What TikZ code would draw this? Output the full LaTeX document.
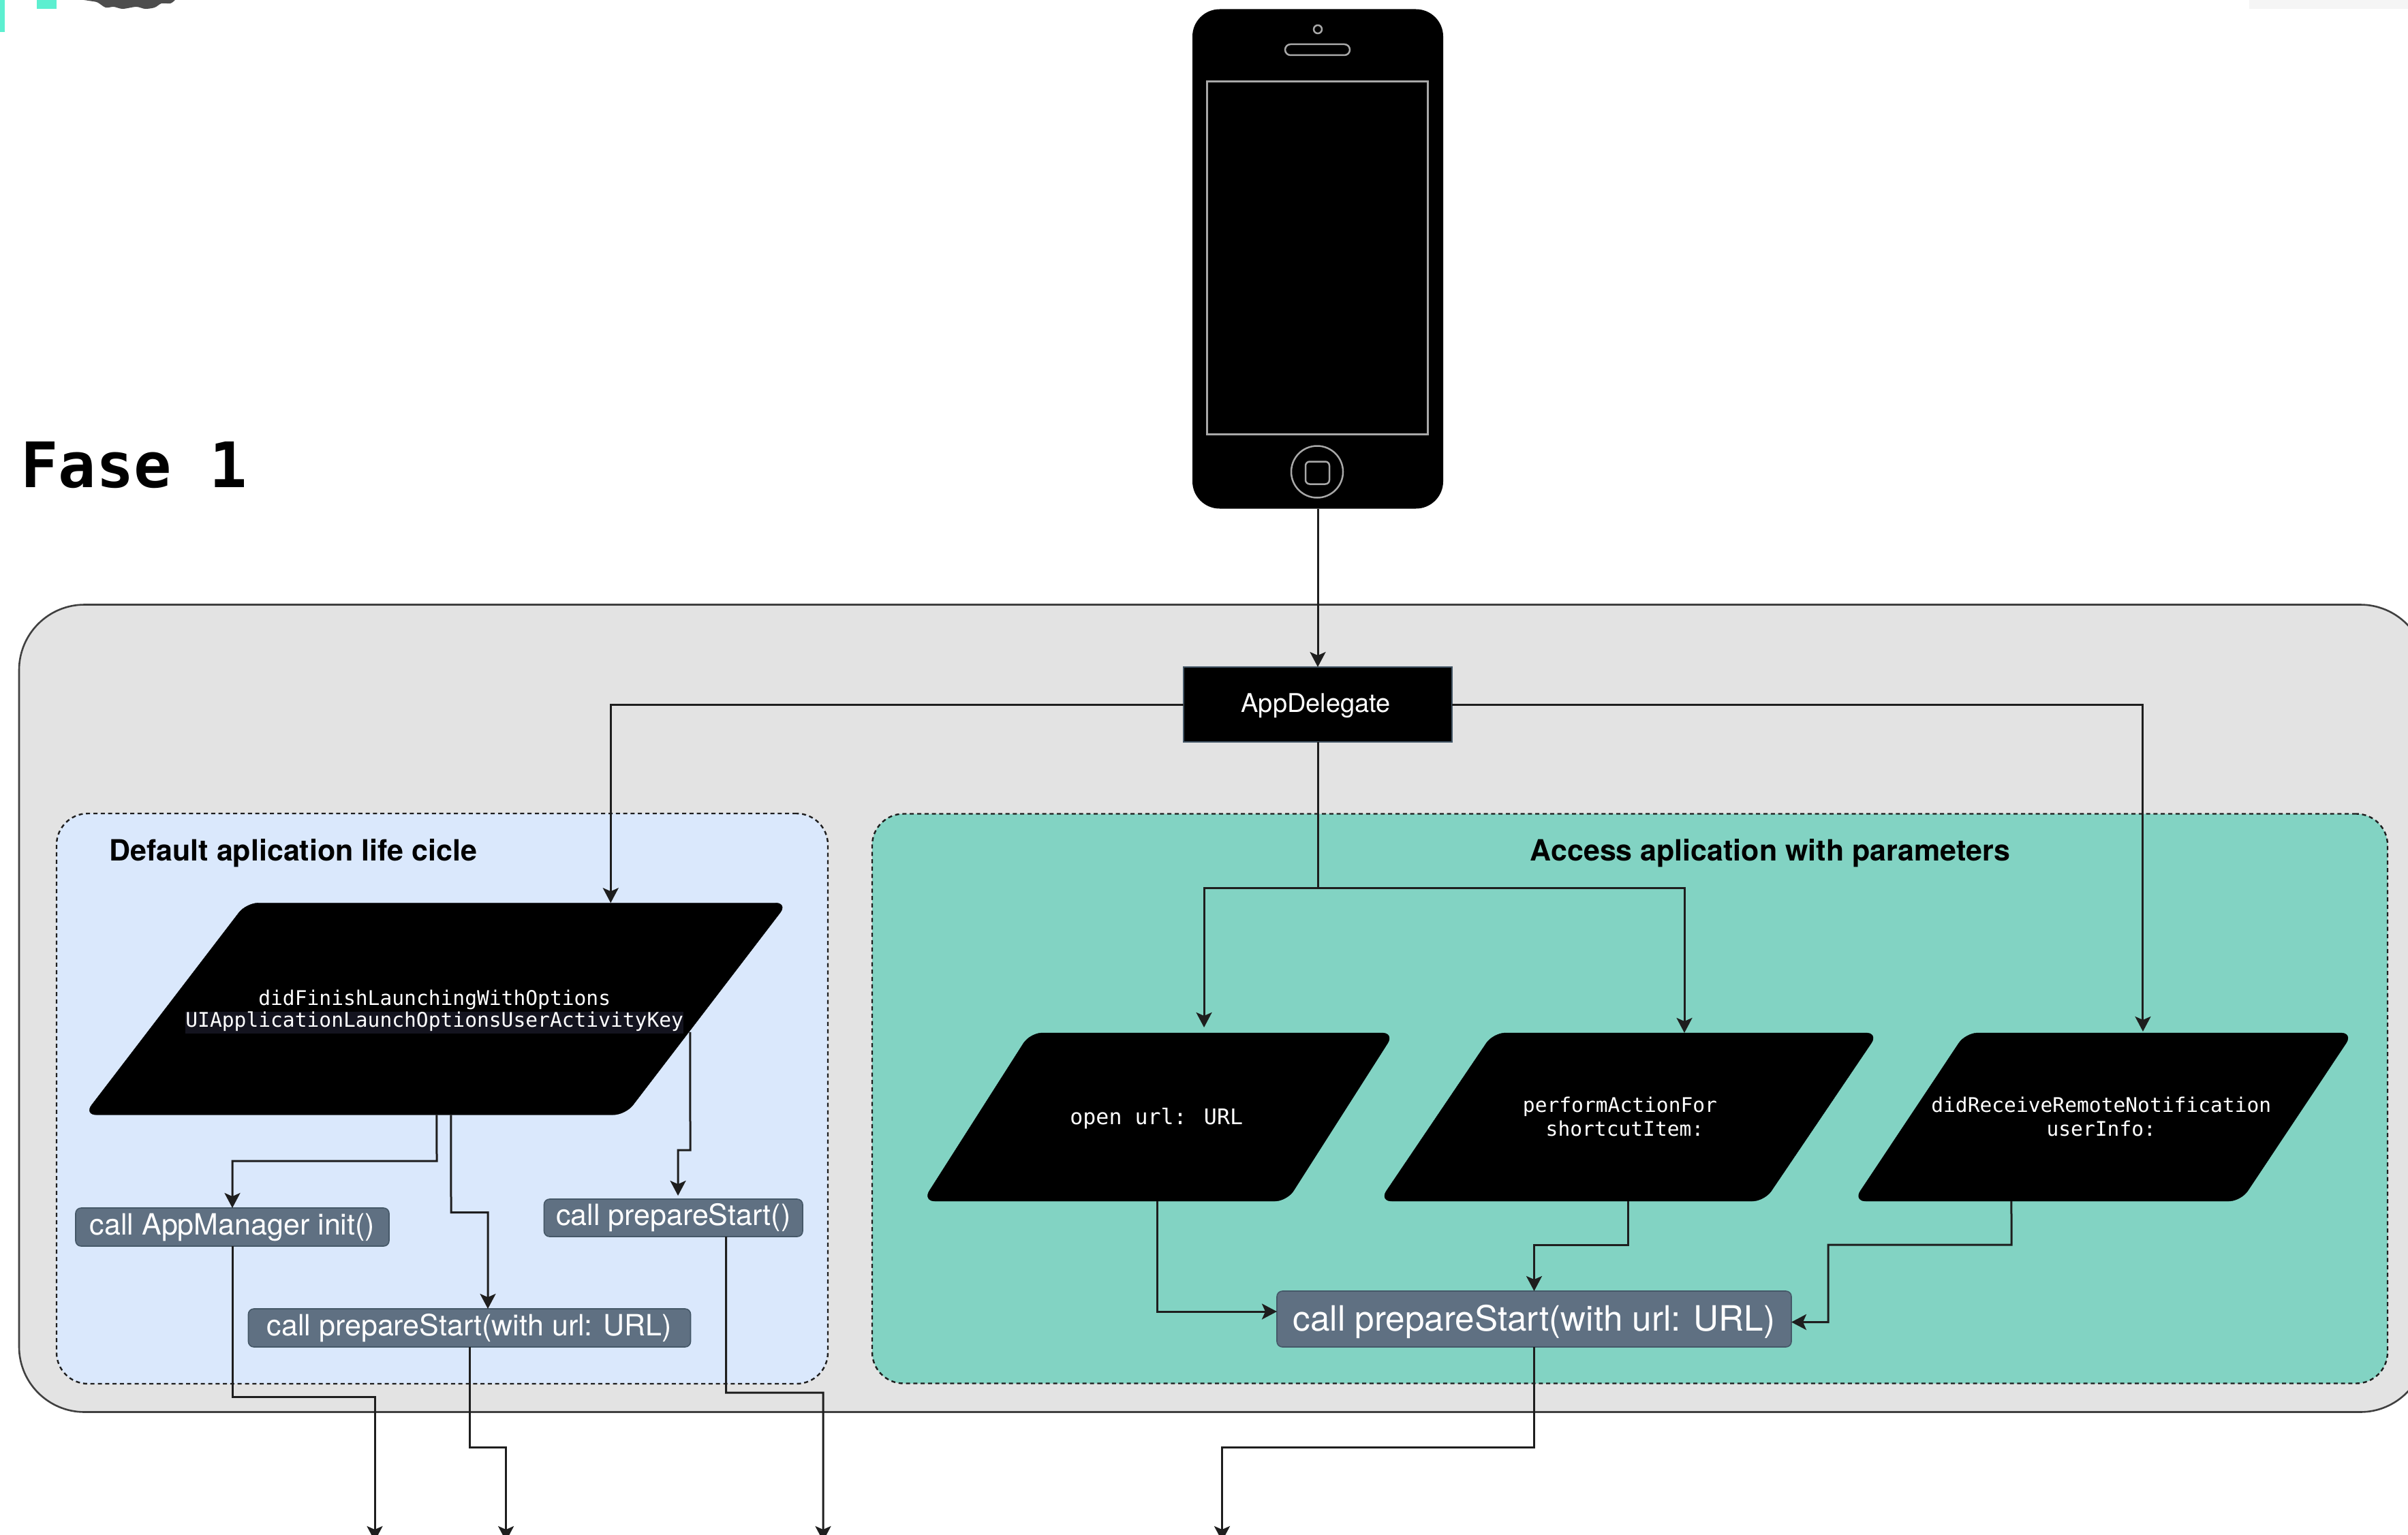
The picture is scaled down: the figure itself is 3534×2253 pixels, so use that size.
\documentclass[tikz,border=0pt]{standalone}
\usepackage{fontspec}
\setmainfont{TeX Gyre Heros}
\newfontfamily\monof{DejaVu Sans Mono}
\usetikzlibrary{arrows.meta,calc}
\definecolor{panelgray}{HTML}{E3E3E3}
\definecolor{panelblue}{HTML}{DAE8FC}
\definecolor{panelteal}{HTML}{82D3C3}
\definecolor{callfill}{HTML}{5F7082}
\definecolor{callline}{HTML}{455868}
\definecolor{linecol}{HTML}{1E1E1E}
\definecolor{hilite}{HTML}{14141F}
\definecolor{phoneline}{HTML}{A8A8A8}
\tikzset{slant offset/.initial=0pt}
\makeatletter
\pgfdeclareshape{slantbox}{
  \inheritsavedanchors[from=rectangle]
  \inheritanchorborder[from=rectangle]
  \inheritanchor[from=rectangle]{center}
  \inheritanchor[from=rectangle]{north}
  \inheritanchor[from=rectangle]{south}
  \inheritanchor[from=rectangle]{east}
  \inheritanchor[from=rectangle]{west}
  \backgroundpath{
    \southwest \edef\slxa{\the\pgf@x}\edef\slya{\the\pgf@y}
    \northeast \edef\slxb{\the\pgf@x}\edef\slyb{\the\pgf@y}
    \pgfmathsetlengthmacro\sloff{\pgfkeysvalueof{/tikz/slant offset}}
    \pgfmathsetlengthmacro\slxc{\slxa+\sloff}
    \pgfmathsetlengthmacro\slxd{\slxb-\sloff}
    \pgfmathsetlengthmacro\slxm{0.5*\slxa+0.5*\slxd}
    \pgfpathmoveto{\pgfqpoint{\slxm}{\slya}}
    \pgfpathlineto{\pgfqpoint{\slxa}{\slya}}
    \pgfpathlineto{\pgfqpoint{\slxc}{\slyb}}
    \pgfpathlineto{\pgfqpoint{\slxb}{\slyb}}
    \pgfpathlineto{\pgfqpoint{\slxd}{\slya}}
    \pgfpathclose
  }
}
\makeatother
\tikzset{
  outerpanel/.style={rectangle,draw=linecol!85,fill=panelgray,line width=1.3pt,rounded corners=48pt,outer sep=0pt,inner sep=0pt},
  innerpanel/.style={rectangle,draw=linecol,line width=1.2pt,dash pattern=on 3pt off 2.4pt,rounded corners=23pt,outer sep=0pt,inner sep=0pt},
  para/.style={slantbox,fill=black,draw=black,line width=0.2pt,rounded corners=9pt,inner sep=0pt,outer sep=0pt,text=white,align=center},
  callbox/.style={rectangle,fill=callfill,draw=callline,line width=0.8pt,rounded corners=4pt,text=white,inner sep=0pt,outer sep=0pt},
  small/.style={font=\fontsize{21.5}{24}\selectfont},
  title/.style={font=\bfseries\fontsize{21.5}{24}\selectfont,inner sep=0pt},
  conn/.style={draw=linecol,line width=1.5pt},
  arr/.style={conn,-{Stealth[length=11pt,width=11.5pt,inset=2.5pt]}},
  phonepart/.style={draw=phoneline,line width=1.25pt}
}
\begin{document}
\begin{tikzpicture}[x=0.5pt,y=-0.5pt]
\useasboundingbox (0,0) rectangle (3534,2253);
\clip (0,0) rectangle (3534,2253);
% window remnants at the top edge
\fill[color={rgb,255:red,93;green,239;blue,208}] (0,0) rectangle (7,47);
\fill[color={rgb,255:red,93;green,239;blue,208}] (54,0) rectangle (83,13);
\fill[color={rgb,255:red,77;green,77;blue,77}] plot[smooth] coordinates {(123,0) (133,1.5) (143,3.5) (155,11) (167,10) (180,13) (200,10) (213,13) (227,11) (237,5) (250,5) (257,0)} -- cycle;
\fill[color={rgb,255:red,245;green,245;blue,245}] (3301,0) rectangle (3534,13);
% heading
\node[anchor=west,inner sep=0pt,font=\monof\bfseries\fontsize{46}{50}\selectfont] (fase) at (30,683) {Fase 1};
% phone
\node[rectangle,fill=black,rounded corners=20pt,minimum width=184pt,minimum height=366.5pt,outer sep=0pt,inner sep=0pt] (phone) at (1934,380) {};
\node[rectangle,phonepart,minimum width=162pt,minimum height=259pt,inner sep=0pt] (screen) at (1933.5,378.5) {};
\node[circle,phonepart,minimum size=6pt,inner sep=0pt] (camera) at (1934,43) {};
\node[rectangle,phonepart,rounded corners=4pt,minimum width=47.5pt,minimum height=8pt,inner sep=0pt] (speaker) at (1933.5,73) {};
\node[circle,phonepart,minimum size=38pt,inner sep=0pt] (homering) at (1933,692.5) {};
\node[rectangle,phonepart,rounded corners=3pt,minimum width=17.5pt,minimum height=16.5pt,inner sep=0pt] (homekey) at (1933.5,694) {};
% panels
\node[outerpanel,minimum width=1766pt,minimum height=592.5pt] (outer) at (1794,1480) {};
\node[innerpanel,fill=panelblue,minimum width=566pt,minimum height=418.5pt] (blue) at (649,1612.5) {};
\node[innerpanel,fill=panelteal,minimum width=1112pt,minimum height=418pt] (teal) at (2392,1612.5) {};
\node[title,anchor=west] (bluetitle) at (160,1252) {Default aplication life cicle};
\node[title] (tealtitle) at (2598,1252) {Access aplication with parameters};
% AppDelegate
\node[rectangle,fill=black,draw=callline,line width=0.8pt,text=white,minimum width=197pt,minimum height=55pt,outer sep=0pt,inner sep=0pt,font=\fontsize{19}{22}\selectfont] (del) at (1934,1034) {\rule{0pt}{16pt}\hspace*{-3pt}AppDelegate};
% parallelograms
\node[para,slant offset=119pt,minimum width=516.25pt,minimum height=155.5pt,font=\monof\fontsize{14.8}{16}\selectfont] (big) at (639.75,1480.75) {\begin{tabular}{@{}c@{}}\rule{0pt}{15.7pt}didFinishLaunchingWithOptions\\\setlength{\fboxsep}{0pt}\colorbox{hilite}{\strut UIApplicationLaunchOptionsUserActivityKey}\end{tabular}\hspace{2pt}};
\node[para,slant offset=78.75pt,minimum width=346pt,minimum height=123.5pt,font=\monof\fontsize{15.8}{18}\selectfont] (p1) at (1700.25,1639.5) {\rule{0pt}{14pt}open url: URL\hspace{3pt}};
\node[para,slant offset=83.5pt,minimum width=366pt,minimum height=123.5pt,font=\monof\fontsize{14.8}{17.5}\selectfont] (p2) at (2390.5,1639.5) {\begin{tabular}{@{}c@{}}\rule{0pt}{15.7pt}performActionFor\\\hspace*{7pt}shortcutItem:\end{tabular}\hspace{13pt}};
\node[para,slant offset=82.25pt,minimum width=366.5pt,minimum height=123.5pt,font=\monof\fontsize{14.8}{17.5}\selectfont] (p3) at (3086.75,1639.5) {\begin{tabular}{@{}c@{}}\rule{0pt}{15.7pt}didReceiveRemoteNotification\\userInfo:\end{tabular}\hspace{3pt}};
% call boxes
\node[callbox,small,minimum width=230pt,minimum height=28pt] (mgr) at (341,1801) {call AppManager init()};
\node[callbox,small,minimum width=189.75pt,minimum height=27.5pt] (ps1) at (988.25,1787.5) {call prepareStart()};
\node[callbox,small,minimum width=324.5pt,minimum height=28pt] (ps2) at (689,1949) {call prepareStart(with url: URL)};
\node[callbox,minimum width=377.5pt,minimum height=41pt,font=\fontsize{25.6}{28}\selectfont] (cb) at (2251.5,1936) {\rule{0pt}{23.2pt}call prepareStart(with url: URL)};
% free ends at the lower edge
\coordinate (outA) at (550,2262);
\coordinate (outB) at (742.6,2262);
\coordinate (outC) at (1208,2262);
\coordinate (outD) at (1793.5,2262);
\coordinate (split) at (1934,1303);
% connectors
\draw[arr] (phone.south) -- (del.north);
\draw[arr] (del.west) -| ([xshift=128.25pt]big.north);
\draw[arr] (del.east) -| ([xshift=29.1pt,yshift=1pt]p3.north);
\draw[conn] (del.south) -- (split);
\draw[arr] (split) -| ([xshift=33.4pt,yshift=4pt]p1.north);
\draw[arr] (split) -| ([xshift=40.75pt]p2.north);
\draw[arr] ([xshift=0.6pt]big.south) -- (641,1704) -| (mgr.north);
\draw[arr] ([xshift=11.1pt]big.south) -- (662,1779.5) -| ([xshift=13.5pt]ps2.north);
\draw[arr] ([xshift=186.6pt,yshift=-17.1pt]big.center) -- (1013,1688) -| ([xshift=3.4pt,yshift=2.5pt]ps1.north);
\draw[arr] (mgr.south) -- (341,2050) -| (outA);
\draw[arr] (ps2.south) -- (689,2124.5) -| (outB);
\draw[arr] ([xshift=38.7pt]ps1.south) -- (1065.6,2044) -| (outC);
\draw[arr] ([xshift=-0.7pt]p1.south) |- ([yshift=5.5pt]cb.west);
\draw[arr] ([xshift=-0.75pt]p2.south) -- (2389,1827.5) -| (cb.north);
\draw[arr] ([xshift=-67.4pt]p3.south) -- (2952,1827) -- (2683,1827) |- ([yshift=-2.25pt]cb.east);
\draw[arr] (cb.south) -- (2251.5,2124.5) -| (outD);
\end{tikzpicture}
\end{document}
